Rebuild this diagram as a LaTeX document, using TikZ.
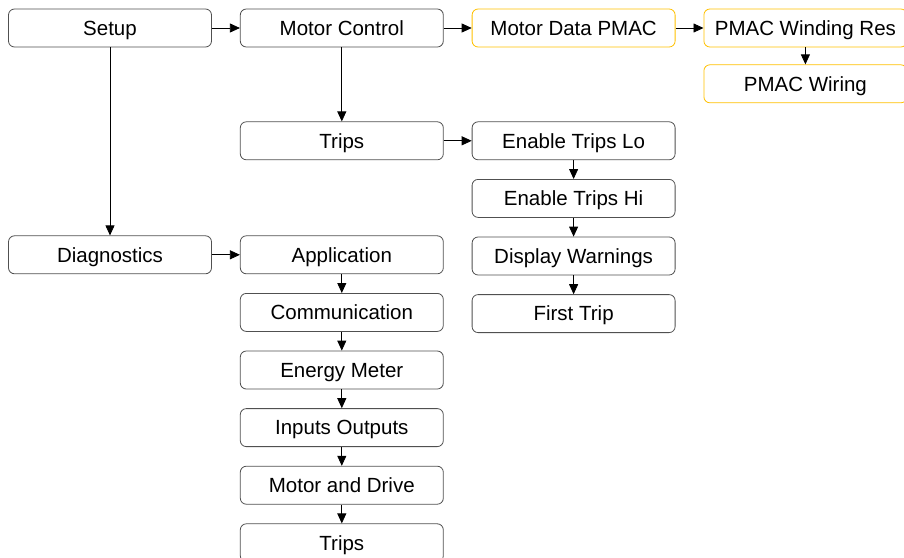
\documentclass[tikz,border=0pt]{standalone}
\usepackage{fontspec}
\setmainfont{Liberation Sans}
\usepackage{xcolor}
\usepackage{tikz}
\usetikzlibrary{arrows.meta,positioning}

\definecolor{boxline}{HTML}{505050}
\definecolor{pmacline}{HTML}{FFC000}

\begin{document}
\begin{tikzpicture}[
  x=1pt, y=1pt,
  node distance=18.8pt and 28pt,
  box/.style={draw=boxline, rounded corners=6pt, line width=0.8pt, align=center,
              minimum height=38pt, minimum width=203pt, inner sep=0pt,
              text height=16pt, text depth=1.3pt,
              font=\fontsize{20.5}{24}\selectfont},
  pmac/.style={box, draw=pmacline},
  every edge/.style={draw, line width=0.8pt, -{Triangle[length=10pt,width=9pt]}}
]
\useasboundingbox (0,0) rectangle (904,-557);

% top row
\node[box] (setup) at (110,-28) {Setup};
\node[box, right=of setup] (motor) {Motor Control};
\node[pmac, right=of motor] (pmacdata) {Motor Data PMAC};
\node[pmac, right=of pmacdata] (winding) {PMAC Winding Res};
\node[pmac, below=17pt of winding] (wiring) {PMAC Wiring};

% trips branch
\node[box, below=74pt of motor] (trips) {Trips};
\node[box, right=of trips] (triplo) {Enable Trips Lo};
\node[box, below=of triplo] (triphi) {Enable Trips Hi};
\node[box, below=of triphi] (warn) {Display Warnings};
\node[box, below=of warn] (first) {First Trip};

% diagnostics branch
\node[box, below=188pt of setup] (diag) {Diagnostics};
\node[box, right=of diag] (app) {Application};
\node[box, below=of app] (comm) {Communication};
\node[box, below=of comm] (energy) {Energy Meter};
\node[box, below=of energy] (io) {Inputs Outputs};
\node[box, below=of io] (drive) {Motor and Drive};
\node[box, below=of drive] (dtrips) {Trips};

\draw (setup) edge (motor);
\draw (motor) edge (pmacdata);
\draw (pmacdata) edge (winding);
\draw (winding) edge (wiring);
\draw (setup) edge (diag);
\draw (motor) edge (trips);
\draw (trips) edge (triplo);
\draw (triplo) edge (triphi);
\draw (triphi) edge (warn);
\draw (warn) edge (first);
\draw (diag) edge (app);
\draw (app) edge (comm);
\draw (comm) edge (energy);
\draw (energy) edge (io);
\draw (io) edge (drive);
\draw (drive) edge (dtrips);
\end{tikzpicture}
\end{document}
